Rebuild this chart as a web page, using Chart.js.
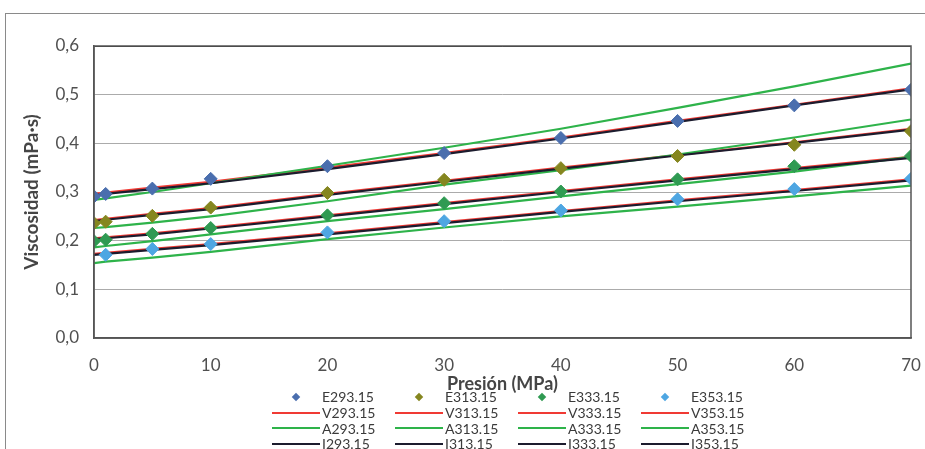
<!DOCTYPE html>
<html>
<head>
<meta charset="utf-8">
<script src="https://cdn.jsdelivr.net/npm/chart.js@4.4.0/dist/chart.umd.min.js"></script>
<style>
    body { margin: 0; width: 925px; height: 449px; overflow: hidden; position: relative; background: #fff; font-family: Lato, "Open Sans", sans-serif; }
    #frame { position: absolute; left: 5px; top: 13px; width: 1000px; height: 1000px; border: 1px solid #8a8a8a; }
    #wrap { position: absolute; left: 0; top: 0; width: 925px; height: 449px; }
    #legend { position: absolute; left: 272px; top: 389px; display: grid; grid-template-columns: repeat(4, 123px); grid-auto-rows: 15.7px; font-size: 14px; color: #3a3a3a; }
    .item { display: flex; align-items: center; white-space: nowrap; }
    .sw { width: 48px; height: 14px; position: relative; margin-right: 2px; }
    .sw .ln { position: absolute; left: 0; right: 0; top: 6px; height: 2px; }
    .sw .dm { position: absolute; left: 21px; top: 4px; width: 6px; height: 6px; transform: rotate(45deg); }
</style>
</head>
<body>
<div id="frame"></div>
<div id="wrap"><canvas id="chart" width="925" height="449"></canvas></div>
<div id="legend"></div>
<script>
'use strict';

// ------------------------------------------------------- //
// Data
// ------------------------------------------------------ //
var pressure = [0, 1, 5, 10, 20, 30, 40, 50, 60, 70];

var E293 = [0.291, 0.296, 0.307, 0.327, 0.353, 0.380, 0.411, 0.446, 0.478, 0.510];
var E313 = [0.236, 0.239, 0.251, 0.268, 0.298, 0.325, 0.349, 0.374, 0.397, 0.425];
var E333 = [0.199, 0.202, 0.214, 0.226, 0.252, 0.277, 0.301, 0.326, 0.353, 0.374];
var E353 = [null, 0.171, 0.183, 0.193, 0.217, 0.240, 0.262, 0.285, 0.306, 0.327];

var V293 = [0.296, 0.299, 0.309, 0.321, 0.350, 0.380, 0.412, 0.446, 0.479, 0.513];
var V313 = [0.242, 0.245, 0.255, 0.267, 0.296, 0.323, 0.350, 0.376, 0.402, 0.430];
var V333 = [0.205, 0.207, 0.215, 0.227, 0.252, 0.277, 0.302, 0.326, 0.349, 0.372];
var V353 = [0.173, 0.175, 0.183, 0.193, 0.215, 0.238, 0.261, 0.283, 0.304, 0.326];

var A293 = [0.284, 0.287, 0.300, 0.318, 0.354, 0.391, 0.430, 0.473, 0.517, 0.564];
var A313 = [0.226, 0.228, 0.237, 0.250, 0.281, 0.315, 0.345, 0.377, 0.412, 0.449];
var A333 = [0.186, 0.189, 0.199, 0.213, 0.240, 0.265, 0.291, 0.316, 0.342, 0.372];
var A353 = [0.154, 0.157, 0.165, 0.177, 0.203, 0.227, 0.250, 0.270, 0.291, 0.313];

var I293 = [0.293, 0.296, 0.306, 0.318, 0.347, 0.378, 0.410, 0.444, 0.478, 0.511];
var I313 = [0.240, 0.243, 0.253, 0.265, 0.294, 0.321, 0.348, 0.375, 0.401, 0.428];
var I333 = [0.203, 0.205, 0.213, 0.225, 0.250, 0.275, 0.300, 0.324, 0.347, 0.370];
var I353 = [0.171, 0.173, 0.181, 0.191, 0.213, 0.236, 0.259, 0.281, 0.302, 0.324];

var xTicks = [0, 10, 20, 30, 40, 50, 60, 70];
var yTicks = [0, 0.1, 0.2, 0.3, 0.4, 0.5, 0.6];

function pts(vals) {
    var out = [];
    for (var i = 0; i < pressure.length; i++) {
        if (vals[i] !== null) out.push({ x: pressure[i], y: vals[i] });
    }
    return out;
}

function exp(label, vals, color) {
    return { label: label, data: pts(vals), showLine: false, pointStyle: 'rectRot',
        pointRadius: 6.5, backgroundColor: color, borderColor: color, borderWidth: 1, order: 0, kind: 'E' };
}

function line(label, vals, color, order) {
    return { label: label, data: pts(vals), showLine: true, pointRadius: 0, borderColor: color,
        backgroundColor: color, borderWidth: 2.2, tension: 0, order: order, kind: 'L' };
}

var red = '#f03a34', green = '#2eb34a', dark = '#1c1c2e';

var datasets = [
    exp('E293.15', E293, '#4a6eae'),
    exp('E313.15', E313, '#85861f'),
    exp('E333.15', E333, '#2f9a52'),
    exp('E353.15', E353, '#4ea6e2'),
    line('V293.15', V293, red, 3), line('V313.15', V313, red, 3), line('V333.15', V333, red, 3), line('V353.15', V353, red, 3),
    line('A293.15', A293, green, 2), line('A313.15', A313, green, 2), line('A333.15', A333, green, 2), line('A353.15', A353, green, 2),
    line('I293.15', I293, dark, 1), line('I313.15', I313, dark, 1), line('I333.15', I333, dark, 1), line('I353.15', I353, dark, 1)
];

// plot area frame
var frameBox = {
    id: 'frameBox',
    afterDatasetsDraw: function (chart) {
        var a = chart.chartArea, c = chart.ctx;
        c.save();
        c.strokeStyle = '#555';
        c.lineWidth = 1.5;
        c.strokeRect(a.left, a.top, a.right - a.left, a.bottom - a.top);
        c.restore();
    }
};

var chart = new Chart(document.getElementById('chart'), {
    type: 'scatter',
    data: { datasets: datasets },
    plugins: [frameBox],
    options: {
        responsive: false,
        animation: false,
        layout: { padding: { left: 20, right: 14, top: 46, bottom: 54 } },
        plugins: { legend: { display: false }, tooltip: { enabled: false } },
        scales: {
            x: {
                type: 'linear', min: 0, max: 70,
                afterBuildTicks: function (s) { s.ticks = xTicks.map(function (v) { return { value: v }; }); },
                afterFit: function (s) { s.paddingRight = 0; s.paddingLeft = 0; },
                ticks: { padding: 17, color: '#505050', font: { family: 'Lato', size: 17 } },
                grid: { display: false, drawTicks: false },
                border: { color: '#555', width: 1.5 },
                title: { display: true, text: 'Presión (MPa)', color: '#454545', padding: { top: -19, bottom: 0 },
                    font: { family: 'Lato', size: 18, weight: 'bold' } }
            },
            y: {
                min: 0, max: 0.6,
                afterBuildTicks: function (s) { s.ticks = yTicks.map(function (v) { return { value: v }; }); },
                afterFit: function (s) { s.width = 74; },
                ticks: { padding: 15, color: '#505050', font: { family: 'Lato', size: 17 },
                    callback: function (v) { return v.toFixed(1).replace('.', ','); } },
                grid: { drawTicks: false, lineWidth: 1,
                    color: function (ctx) { return ctx.tick && ctx.tick.value === 0.6 ? '#333' : '#ababab'; } },
                border: { color: '#555', width: 1.5 },
                title: { display: true, text: 'Viscosidad (mPa·s)', color: '#454545', padding: 0,
                    font: { family: 'Lato', size: 19, weight: 'bold' } }
            }
        }
    }
});

// ------------------------------------------------------- //
// Legend (4 columns, same order as the reference)
// ------------------------------------------------------ //
var legendEl = document.getElementById('legend');
chart.data.datasets.forEach(function (ds) {
    var item = document.createElement('div');
    item.className = 'item';
    var sw = document.createElement('span');
    sw.className = 'sw';
    var mark = document.createElement('span');
    mark.className = ds.kind === 'E' ? 'dm' : 'ln';
    mark.style.background = ds.borderColor;
    sw.appendChild(mark);
    item.appendChild(sw);
    item.appendChild(document.createTextNode(ds.label));
    legendEl.appendChild(item);
});
</script>
</body>
</html>
